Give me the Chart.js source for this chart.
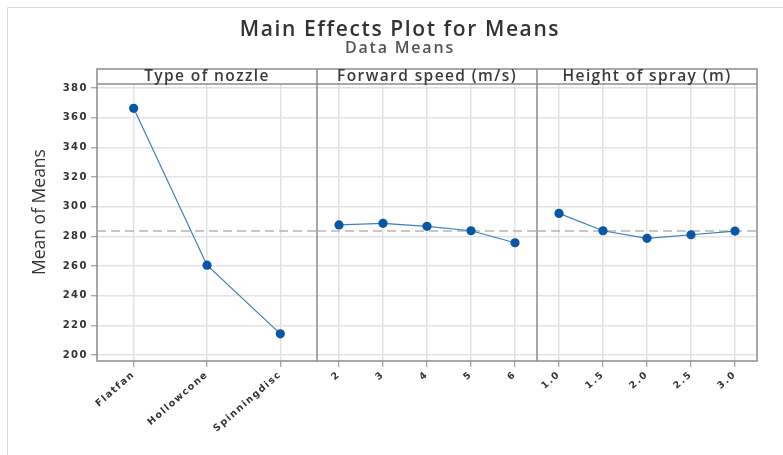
<!DOCTYPE html>
<html>
<head>
<meta charset="utf-8">
<script src="https://cdn.jsdelivr.net/npm/chart.js@4/dist/chart.umd.min.js"></script>
<style>
  html, body { margin: 0; padding: 0; background: #fff; }
  #wrap { width: 783px; height: 455px; position: relative; }
</style>
</head>
<body>
<div id="wrap"><canvas id="c" width="783" height="455"></canvas></div>
<script>
// Factor levels and the mean response at each level
const nozzleTypes  = ['Flatfan', 'Hollowcone', 'Spinningdisc'];
const nozzleMeans  = [366.3, 260.6, 214.3];
const speedLevels  = ['2', '3', '4', '5', '6'];
const speedMeans   = [287.7, 288.8, 286.8, 283.8, 275.7];
const heightLevels = ['1.0', '1.5', '2.0', '2.5', '3.0'];
const heightMeans  = [295.5, 283.8, 278.7, 281.1, 283.6];
const grandMean    = 283.7;
const panelTitles  = ['Type of nozzle', 'Forward speed (m/s)', 'Height of spray (m)'];
const yTickValues  = [200, 220, 240, 260, 280, 300, 320, 340, 360, 380];

const mainTitle = 'Main Effects Plot for Means';
const subTitle  = 'Data Means';
const yTitle    = 'Mean of Means';

const panels = [
  { id: 'x1', levels: nozzleTypes,  means: nozzleMeans },
  { id: 'x2', levels: speedLevels,  means: speedMeans },
  { id: 'x3', levels: heightLevels, means: heightMeans },
];

const LINE_BLUE  = '#3d7cc4';
const POINT_BLUE = '#0a56a6';
const FRAME_GREY = '#8c8c8c';
const GRID_GREY  = '#e3e3e3';
const SPACING    = '1.5px';

const datasets = [];
panels.forEach(p => {
  // dashed reference line at the grand mean, edge to edge of the panel
  datasets.push({
    data: [{ x: -0.5, y: grandMean }, { x: p.levels.length - 0.5, y: grandMean }],
    xAxisID: p.id, yAxisID: 'y',
    borderColor: '#b5b5b5', borderWidth: 1.5, borderDash: [9, 5],
    pointRadius: 0, order: 2
  });
  datasets.push({
    data: p.means.map((v, i) => ({ x: i, y: v })),
    xAxisID: p.id, yAxisID: 'y',
    borderColor: LINE_BLUE, borderWidth: 1.2,
    pointRadius: 4.6, pointBackgroundColor: POINT_BLUE, pointBorderWidth: 0,
    order: 1
  });
});

const gridOpts = { color: GRID_GREY, lineWidth: 1.5, tickColor: FRAME_GREY, tickLength: 6, tickWidth: 1 };

const scales = {
  y: {
    type: 'linear', position: 'left',
    min: 196, max: 382.7,
    afterBuildTicks: s => { s.ticks = yTickValues.map(v => ({ value: v })); },
    afterFit: s => { s.width = 97; },
    ticks: { font: { family: '"DejaVu Sans"', size: 10, weight: 'bold' }, color: '#333', padding: 3 },
    grid: gridOpts,
    border: { display: false },
    title: { display: false }
  }
};
panels.forEach(p => {
  scales[p.id] = {
    type: 'linear', position: 'bottom', stack: 'panels', stackWeight: 1,
    min: -0.5, max: p.levels.length - 0.5,
    afterBuildTicks: s => { s.ticks = p.levels.map((_, i) => ({ value: i })); },
    afterFit: s => { s.height = 94; },
    ticks: {
      font: { family: '"DejaVu Sans"', size: 9.5, weight: 'bold' }, color: '#333', padding: 2,
      minRotation: 41, maxRotation: 41, autoSkip: false,
      callback: v => p.levels[v]
    },
    grid: gridOpts,
    border: { display: false }
  };
});

// Titles, panel headers and panel frames
const framePlugin = {
  id: 'frame',
  beforeUpdate(chart) { chart.ctx.letterSpacing = SPACING; },
  beforeDraw(chart) {
    const ctx = chart.ctx;
    ctx.letterSpacing = SPACING;
    ctx.save();
    ctx.strokeStyle = '#dadada';
    ctx.lineWidth = 1;
    ctx.beginPath();
    ctx.moveTo(7.5, 455);
    ctx.lineTo(7.5, 7.5);
    ctx.lineTo(783, 7.5);
    ctx.stroke();
    ctx.restore();
  },
  beforeDatasetsDraw(chart) {
    const ctx = chart.ctx;
    const ca = chart.chartArea;
    const headTop = 69;
    ctx.save();
    ctx.strokeStyle = FRAME_GREY;
    ctx.lineWidth = 1.5;
    ctx.strokeRect(ca.left, headTop, ca.right - ca.left, ca.bottom - headTop);
    ctx.beginPath();
    ctx.moveTo(ca.left, ca.top); ctx.lineTo(ca.right, ca.top);
    panels.slice(0, -1).forEach(p => {
      const s = chart.scales[p.id];
      ctx.moveTo(s.right, headTop); ctx.lineTo(s.right, ca.bottom);
    });
    ctx.stroke();

    ctx.fillStyle = '#3a3a3a';
    ctx.font = '600 15.5px "Open Sans"';
    ctx.textAlign = 'center';
    ctx.textBaseline = 'alphabetic';
    ctx.letterSpacing = '1.4px';
    panels.forEach((p, i) => {
      const s = chart.scales[p.id];
      ctx.fillText(panelTitles[i], (s.left + s.right) / 2, 81);
    });
    ctx.restore();
  },
  afterDraw(chart) {
    const ctx = chart.ctx;
    ctx.save();
    ctx.textAlign = 'center';
    ctx.textBaseline = 'alphabetic';
    ctx.fillStyle = '#333';
    ctx.font = '600 21px "Open Sans"';
    ctx.letterSpacing = '1.6px';
    ctx.fillText(mainTitle, 400, 36);
    ctx.fillStyle = '#555';
    ctx.font = '600 16px "Open Sans"';
    ctx.letterSpacing = '1.8px';
    ctx.fillText(subTitle, 400, 53);

    // vertical axis title
    ctx.translate(40, 212);
    ctx.rotate(-Math.PI / 2);
    ctx.textBaseline = 'middle';
    ctx.fillStyle = '#333';
    ctx.font = '17.5px "Open Sans"';
    ctx.letterSpacing = '0px';
    ctx.fillText(yTitle, 0, 0);
    ctx.restore();
  }
};

new Chart(document.getElementById('c'), {
  type: 'line',
  data: { datasets },
  options: {
    responsive: false,
    animation: false,
    layout: { padding: { top: 84, right: 26, left: 0, bottom: 0 } },
    plugins: { legend: { display: false }, tooltip: { enabled: false } },
    scales
  },
  plugins: [framePlugin]
});
</script>
</body>
</html>
